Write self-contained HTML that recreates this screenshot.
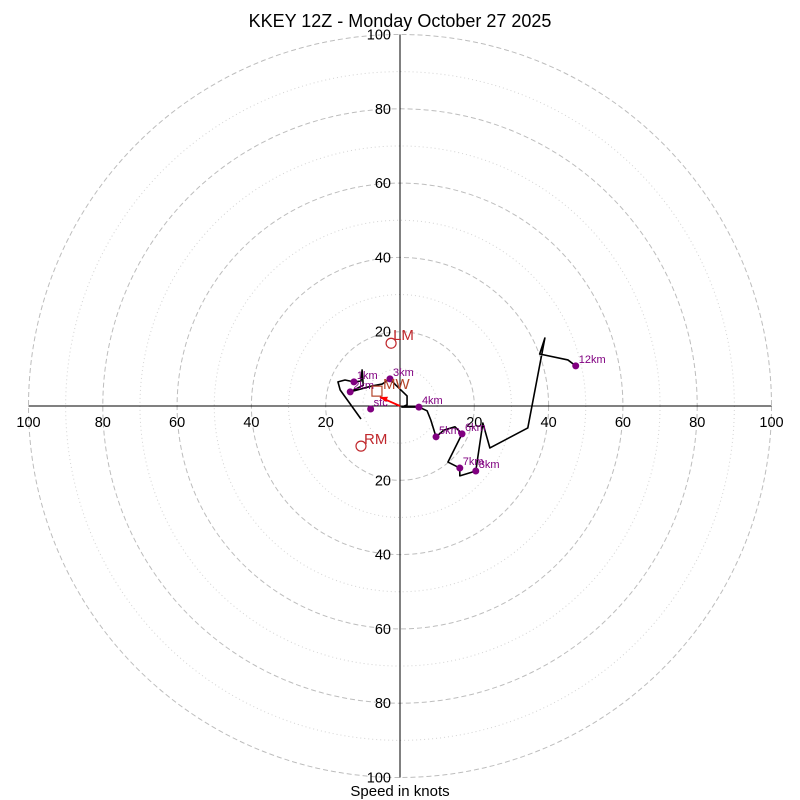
<!DOCTYPE html>
<html><head><meta charset="utf-8"><style>
body{margin:0;background:#fff}
svg{display:block;font-family:"Liberation Sans","DejaVu Sans",sans-serif}
</style></head><body>
<svg id="chart" width="800" height="800" viewBox="0 0 800 800">
<text x="400" y="27" font-size="18" text-anchor="middle">KKEY 12Z - Monday October 27 2025</text>
<g id="grid"></g><g id="axes"></g><g id="trace"></g><g id="marks"></g>
<text x="400" y="796" font-size="15" text-anchor="middle">Speed in knots</text>
</svg>
<script>
const ringValues=[10,20,30,40,50,60,70,80,90,100];
const tickLabels=[100,80,60,40,20];
const pathU=[-10.5,-16.1,-16.7,-14.8,-12.4,-10.5,-10.2,-9.9,-13.4,-7.5,-4.8,-2.7,-1.1,1.9,1.9,0.5,2.7,5.1,7.3,8.3,9.7,11.8,14.8,16.7,12.9,16.1,16.1,20.4,22.3,24.2,34.4,39.0,37.6,45.2,47.3];
const pathV=[-3.5,4.3,6.5,7.0,6.5,6.7,9.7,5.6,3.8,5.4,5.9,7.3,5.6,2.7,0.3,-0.3,-0.3,-0.3,-1.3,-3.8,-8.3,-6.5,-5.6,-7.5,-15.1,-16.7,-18.8,-17.5,-4.6,-11.3,-5.9,18.3,14.0,12.4,10.8];
const levelNames=["sfc","1km","2km","3km","4km","5km","6km","7km","8km","12km"];
const levelU=[-7.9,-12.4,-13.4,-2.7,5.1,9.7,16.7,16.1,20.4,47.3];
const levelV=[-0.8,6.5,3.8,7.3,-0.3,-8.3,-7.5,-16.7,-17.5,10.8];
const lmUV=[-2.4,16.9], rmUV=[-10.5,-10.8], mwUV=[-6.2,4.0];

const cx=400,cy=406,k=3.715;
const X=u=>cx+u*k, Y=v=>cy-v*k;
const NS="http://www.w3.org/2000/svg";
function mk(tag,parent,attrs){const e=document.createElementNS(NS,tag);for(const a in attrs)e.setAttribute(a,attrs[a]);parent.appendChild(e);return e;}
const grid=document.getElementById('grid'),axes=document.getElementById('axes'),trace=document.getElementById('trace'),marks=document.getElementById('marks');
ringValues.forEach(r=>{
 const major=r%20===0;
 const c=mk('circle',grid,{cx:cx,cy:cy,r:r*k,fill:'none',stroke:major?'#bdbdbd':'#d3d3d3','stroke-width':1,'stroke-dasharray':major?'5,3':'1,3'});
 
 
});
let l=mk('line',axes,{x1:X(-100),y1:cy,x2:X(100),y2:cy,stroke:'#000','stroke-width':1});


l=mk('line',axes,{x1:cx,y1:Y(100),x2:cx,y2:Y(-100),stroke:'#000','stroke-width':1});


tickLabels.forEach(t=>{
 [-1,1].forEach(s=>{
  let e=mk('text',axes,{x:X(s*t),y:cy+21,'font-size':14.5,'text-anchor':'middle'});e.textContent=t;
  
  
  e=mk('text',axes,{x:cx-9,y:Y(s*t)+5,'font-size':14.5,'text-anchor':'end'});e.textContent=t;
  
  
 });
});
const pts=pathU.map((u,i)=>X(u)+','+Y(pathV[i])).join(' ');
const pl=mk('polyline',trace,{points:pts,fill:'none',stroke:'#000','stroke-width':1.6,'stroke-linejoin':'round'});


levelNames.forEach((n,i)=>{
 const c=mk('circle',marks,{cx:X(levelU[i]),cy:Y(levelV[i]),r:3.5,fill:'#800080'});
 
 
 const t=mk('text',marks,{x:X(levelU[i])+3,y:Y(levelV[i])-3,'font-size':11,fill:'#800080'});t.textContent=n;
 
 
});
let e=mk('circle',marks,{cx:X(lmUV[0]),cy:Y(lmUV[1]),r:5,fill:'none',stroke:'#c0282d','stroke-width':1.2});


e=mk('text',marks,{x:X(lmUV[0])+2,y:Y(lmUV[1])-3,'font-size':15,fill:'#c0282d'});e.textContent='LM';


e=mk('circle',marks,{cx:X(rmUV[0]),cy:Y(rmUV[1]),r:5,fill:'none',stroke:'#c0282d','stroke-width':1.2});


e=mk('text',marks,{x:X(rmUV[0])+3,y:Y(rmUV[1])-2,'font-size':15,fill:'#c0282d'});e.textContent='RM';


e=mk('rect',marks,{x:X(mwUV[0])-5,y:Y(mwUV[1])-5,width:10,height:10,fill:'none',stroke:'#b5452a','stroke-width':1.2});


e=mk('text',marks,{x:X(mwUV[0])+6,y:Y(mwUV[1])-2,'font-size':15,fill:'#b5452a'});e.textContent='MW';


e=mk('line',marks,{x1:cx,y1:cy,x2:X(-5.4),y2:Y(2.4),stroke:'#ff0000','stroke-width':1.8});


e=mk('polygon',marks,{points:`${X(-5.4)},${Y(2.4)} ${X(-3.2)},${Y(2.5)} ${X(-3.9)},${Y(1.1)}`,fill:'#ff0000'});


</script>
</body></html>
